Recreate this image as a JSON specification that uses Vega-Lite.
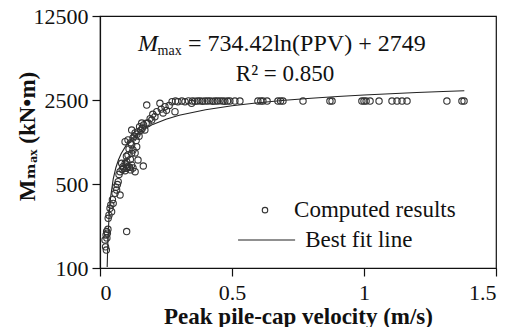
{
  "$schema": "https://vega.github.io/schema/vega-lite/v6.json",
  "width": 396,
  "height": 252,
  "autosize": {"type": "none"},
  "padding": {"left": 100, "top": 16, "right": 22, "bottom": 59},
  "background": "white",
  "config": {
    "view": {"stroke": "#111", "strokeWidth": 1.2},
    "font": "'Liberation Serif', 'Times New Roman', 'DejaVu Serif', serif",
    "text": {"font": "'Liberation Serif', 'Times New Roman', 'DejaVu Serif', serif"},
    "axis": {
      "grid": false,
      "domainColor": "#111",
      "domainWidth": 1.2,
      "tickColor": "#111",
      "tickWidth": 1.2,
      "tickSize": 8,
      "labelFont": "'Liberation Serif', 'Times New Roman', 'DejaVu Serif', serif",
      "labelFontSize": 22,
      "labelColor": "#111",
      "titleFont": "'Liberation Serif', 'Times New Roman', 'DejaVu Serif', serif",
      "titleFontSize": 23,
      "titleFontWeight": "bold",
      "titleColor": "#111"
    }
  },
  "datasets": {
    "pts": [
      {"v":0.019,"m":171},{"v":0.021,"m":150},{"v":0.024,"m":141},{"v":0.023,"m":188},{"v":0.025,"m":201},{"v":0.028,"m":195},{"v":0.026,"m":178},{"v":0.030,"m":210},{"v":0.101,"m":201},
      {"v":0.031,"m":259},{"v":0.034,"m":275},{"v":0.038,"m":314},{"v":0.044,"m":294},{"v":0.041,"m":335},{"v":0.050,"m":345},{"v":0.047,"m":370},{"v":0.057,"m":418},{"v":0.063,"m":446},{"v":0.060,"m":470},{"v":0.069,"m":523},{"v":0.066,"m":495},{"v":0.076,"m":405},
      {"v":0.076,"m":633},{"v":0.072,"m":600},{"v":0.082,"m":744},{"v":0.087,"m":697},{"v":0.084,"m":660},{"v":0.090,"m":676},{"v":0.095,"m":645},{"v":0.101,"m":676},{"v":0.100,"m":720},{"v":0.106,"m":700},{"v":0.112,"m":690},{"v":0.120,"m":720},{"v":0.133,"m":633},{"v":0.164,"m":706},{"v":0.101,"m":767},{"v":0.095,"m":740},{"v":0.125,"m":680},{"v":0.116,"m":655},
      {"v":0.106,"m":872},{"v":0.133,"m":906},{"v":0.144,"m":792},{"v":0.139,"m":1022},{"v":0.120,"m":1056},{"v":0.095,"m":1124},{"v":0.106,"m":1162},{"v":0.125,"m":1208},{"v":0.120,"m":1407},{"v":0.133,"m":1329},{"v":0.144,"m":1362},{"v":0.170,"m":1407},{"v":0.158,"m":1609},{"v":0.182,"m":1609},{"v":0.196,"m":1704},{"v":0.208,"m":1816},{"v":0.239,"m":1949},{"v":0.284,"m":1998},{"v":0.246,"m":2199},{"v":0.177,"m":2271},{"v":0.227,"m":2347},
      {"v":0.150,"m":1500},{"v":0.165,"m":1550},{"v":0.160,"m":1450},{"v":0.175,"m":1600},{"v":0.130,"m":1250},{"v":0.115,"m":1100},{"v":0.110,"m":980},{"v":0.125,"m":960},{"v":0.190,"m":1750},{"v":0.200,"m":1900},{"v":0.215,"m":2000},{"v":0.232,"m":2100},{"v":0.262,"m":2250},{"v":0.252,"m":2050},{"v":0.100,"m":850},{"v":0.115,"m":800},{"v":0.120,"m":900},{"v":0.140,"m":1300},{"v":0.155,"m":1400},{"v":0.137,"m":1150},{"v":0.148,"m":1250},
      {"v":0.273,"m":2420},{"v":0.286,"m":2450},{"v":0.295,"m":2420},{"v":0.310,"m":2450},{"v":0.322,"m":2420},{"v":0.335,"m":2460},{"v":0.347,"m":2347},{"v":0.350,"m":2450},{"v":0.360,"m":2440},{"v":0.370,"m":2450},{"v":0.379,"m":2460},{"v":0.388,"m":2440},{"v":0.398,"m":2450},{"v":0.408,"m":2450},{"v":0.417,"m":2460},{"v":0.427,"m":2440},{"v":0.436,"m":2450},{"v":0.445,"m":2450},{"v":0.455,"m":2460},{"v":0.465,"m":2450},{"v":0.473,"m":2440},{"v":0.483,"m":2450},{"v":0.492,"m":2450},{"v":0.511,"m":2450},{"v":0.530,"m":2450},
      {"v":0.598,"m":2450},{"v":0.609,"m":2450},{"v":0.617,"m":2450},{"v":0.633,"m":2450},{"v":0.674,"m":2450},{"v":0.684,"m":2450},{"v":0.693,"m":2450},{"v":0.769,"m":2450},{"v":0.871,"m":2450},{"v":0.879,"m":2450},{"v":0.992,"m":2450},{"v":1.000,"m":2450},{"v":1.008,"m":2450},{"v":1.023,"m":2450},{"v":1.057,"m":2450},{"v":1.106,"m":2450},{"v":1.125,"m":2450},{"v":1.144,"m":2450},{"v":1.163,"m":2450},{"v":1.314,"m":2450},{"v":1.371,"m":2450},{"v":1.379,"m":2450}
    ],
    "fit": [
      {"v":0.0272,"m":101.8},{"v":0.03,"m":173.7},{"v":0.035,"m":286.9},{"v":0.04,"m":385},{"v":0.05,"m":548.9},{"v":0.06,"m":682.8},{"v":0.07,"m":796},{"v":0.08,"m":894.1},{"v":0.1,"m":1057.9},{"v":0.12,"m":1191.8},{"v":0.15,"m":1355.7},{"v":0.2,"m":1567},{"v":0.25,"m":1730.9},{"v":0.3,"m":1864.8},{"v":0.4,"m":2076.1},{"v":0.5,"m":2239.9},{"v":0.6,"m":2373.8},{"v":0.7,"m":2487},{"v":0.8,"m":2585.1},{"v":0.9,"m":2671.6},{"v":1.0,"m":2749},{"v":1.1,"m":2819},{"v":1.2,"m":2882.9},{"v":1.3,"m":2941.7},{"v":1.38,"m":2985.6}
    ],
    "labels": [
      {"v":0.144,"m":6393,"t":"M","kind":"M"},
      {"v":0.218,"m":5921,"t":"max","kind":"sub"},
      {"v":0.333,"m":6393,"t":"= 734.42ln(PPV) + 2749","kind":"eq"},
      {"v":0.701,"m":3597,"t":"R² = 0.850","kind":"r2"},
      {"v":0.735,"m":303,"t":"Computed results","kind":"leg"},
      {"v":0.777,"m":171,"t":"Best fit line","kind":"leg"}
    ],
    "legpt": [{"v":0.625,"m":303}],
    "legline": [{"v":0.523,"v2":0.739,"m":171}]
  },
  "encoding": {
    "x": {"field":"v","type":"quantitative","scale":{"domain":[0,1.5]},"axis":{"values":[0,0.5,1,1.5],"format":"~g","title":"Peak pile-cap velocity  (m/s)","labelPadding":6,"titlePadding":2}},
    "y": {"field":"m","type":"quantitative","scale":{"type":"log","domain":[100,12500]},"axis":{"values":[100,500,2500,12500],"format":"d","title":"Mₘₐₓ  (kN•m)","labelPadding":4,"titleX":-73,"titleY":120,"titleBaseline":"middle","titleAnchor":"middle"}}
  },
  "layer": [
    {"data":{"name":"fit"},"mark":{"type":"line","color":"#222","strokeWidth":1.1}},
    {"data":{"name":"pts"},"mark":{"type":"point","shape":"circle","filled":false,"size":40,"stroke":"#333","strokeWidth":1.1,"opacity":1}},
    {"data":{"name":"legpt"},"mark":{"type":"point","shape":"circle","filled":false,"size":30,"stroke":"#333","strokeWidth":1.1,"opacity":1}},
    {"data":{"name":"legline"},"mark":{"type":"rule","color":"#222","strokeWidth":1.1},"encoding":{"x2":{"field":"v2"}}},
    {"data":{"name":"labels"},"transform":[{"filter":"datum.kind === 'M'"}],"mark":{"type":"text","align":"left","baseline":"alphabetic","fontSize":24,"fontStyle":"italic","color":"#111"},"encoding":{"text":{"field":"t"}}},
    {"data":{"name":"labels"},"transform":[{"filter":"datum.kind === 'sub'"}],"mark":{"type":"text","align":"left","baseline":"alphabetic","fontSize":14,"color":"#111"},"encoding":{"text":{"field":"t"}}},
    {"data":{"name":"labels"},"transform":[{"filter":"datum.kind === 'eq'"}],"mark":{"type":"text","align":"left","baseline":"alphabetic","fontSize":24,"color":"#111"},"encoding":{"text":{"field":"t"}}},
    {"data":{"name":"labels"},"transform":[{"filter":"datum.kind === 'r2'"}],"mark":{"type":"text","align":"center","baseline":"alphabetic","fontSize":23,"color":"#111"},"encoding":{"text":{"field":"t"}}},
    {"data":{"name":"labels"},"transform":[{"filter":"datum.kind === 'leg'"}],"mark":{"type":"text","align":"left","baseline":"middle","fontSize":23,"color":"#111"},"encoding":{"text":{"field":"t"}}}
  ]
}
